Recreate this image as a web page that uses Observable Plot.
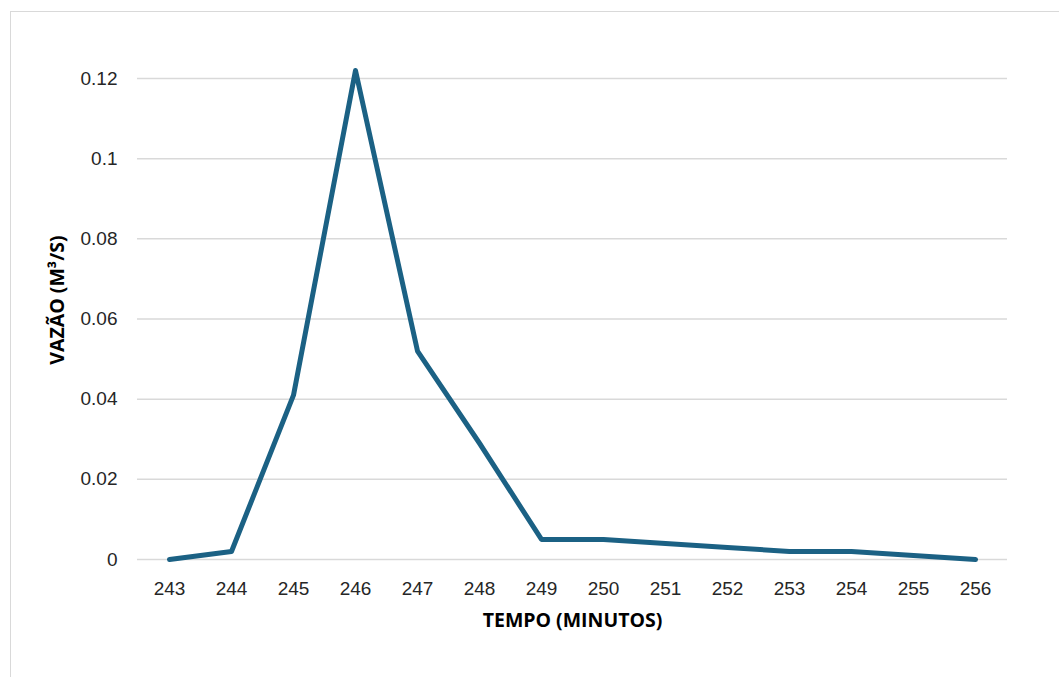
<!DOCTYPE html>
<html>
<head>
<meta charset="utf-8">
<script src="https://cdn.jsdelivr.net/npm/d3@7"></script>
<script src="https://cdn.jsdelivr.net/npm/@observablehq/plot@0.6"></script>
<style>
  html, body { margin: 0; padding: 0; background: #fff; }
  #wrap { position: relative; width: 1059px; height: 677px; overflow: hidden; }
  #frame { position: absolute; left: 10px; top: 11px; width: 1070px; height: 690px; border: 1.5px solid #d9d9d9; box-sizing: border-box; }
  #chart { position: absolute; left: 0; top: 0; }
</style>
</head>
<body>
<div id="wrap"><div id="frame"></div><div id="chart"></div></div>
<script>
const minutes = [243, 244, 245, 246, 247, 248, 249, 250, 251, 252, 253, 254, 255, 256];
const flow = [0, 0.002, 0.041, 0.122, 0.052, 0.029, 0.005, 0.005, 0.004, 0.003, 0.002, 0.002, 0.001, 0];
const yTicks = [0, 0.02, 0.04, 0.06, 0.08, 0.1, 0.12];
const xTitle = "TEMPO (MINUTOS)";
const yTitle = "VAZÃO (M³/S)";

const data = minutes.map((m, i) => ({minute: String(m), flow: flow[i]}));

const tickFont = "'Liberation Sans', Arial, sans-serif";
const titleFont = "'Open Sans', 'Noto Sans', sans-serif";

const chart = Plot.plot({
  width: 1059,
  height: 677,
  marginLeft: 137,
  marginRight: 52,
  marginTop: 78,
  marginBottom: 118,
  style: {background: "transparent", fontFamily: tickFont, fontSize: "19px", color: "#262626"},
  x: {type: "point", domain: minutes.map(String), padding: 0.5, align: 0.5},
  y: {domain: [0, 0.12]},
  marks: [
    Plot.ruleY(yTicks, {stroke: "#d9d9d9", strokeWidth: 1.5}),
    Plot.axisY({ticks: yTicks, tickFormat: d => String(+d.toFixed(2)), tickSize: 0, tickPadding: 20, label: null, fontSize: 19, fill: "#262626"}),
    Plot.axisX({tickSize: 0, tickPadding: 22, label: null, fontSize: 19, fill: "#262626"}),
    Plot.lineY(data, {x: "minute", y: "flow", stroke: "#1b6184", strokeWidth: 5, strokeLinejoin: "round", strokeLinecap: "round"}),
    Plot.text([xTitle], {frameAnchor: "bottom", dy: 67, text: d => d, fontFamily: titleFont, fontWeight: "bold", fontSize: 19.5, fill: "#000", textAnchor: "middle"}),
    Plot.text([yTitle], {frameAnchor: "left", dx: -80, dy: -19, rotate: -90, text: d => d, fontFamily: titleFont, fontWeight: "bold", fontSize: 19.5, fill: "#000", textAnchor: "middle"})
  ]
});
document.getElementById("chart").appendChild(chart);
</script>
</body>
</html>
